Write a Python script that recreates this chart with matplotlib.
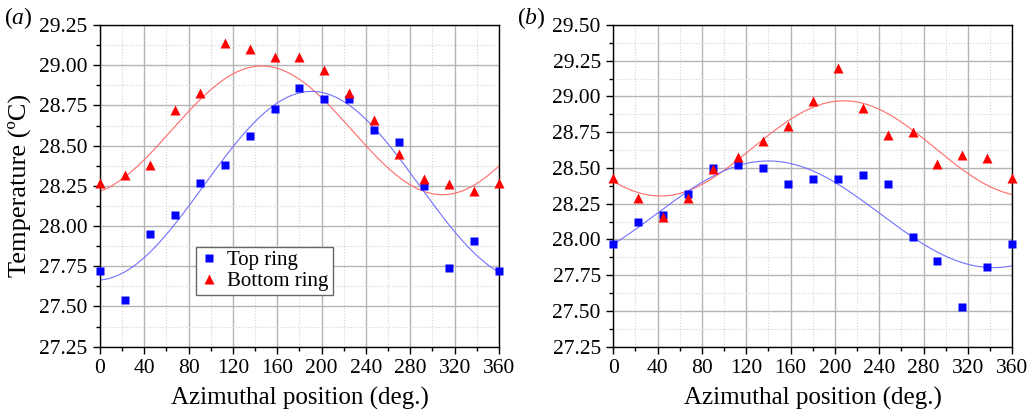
import numpy as np
import matplotlib
matplotlib.use("Agg")
import matplotlib.pyplot as plt
from matplotlib.ticker import MultipleLocator

plt.rcParams["font.family"] = ["Liberation Serif", "DejaVu Serif"]
plt.rcParams["mathtext.fontset"] = "custom"
plt.rcParams["mathtext.rm"] = "Liberation Serif"
plt.rcParams["mathtext.it"] = "Liberation Serif:italic"

# azimuthal positions (deg.)
angle = np.arange(0, 360.1, 22.5)

# (a)
top_a = [27.72, 27.54, 27.95, 28.07, 28.27, 28.38, 28.56, 28.73, 28.86,
         28.79, 28.79, 28.60, 28.52, 28.25, 27.74, 27.91, 27.72]
bottom_a = [28.27, 28.32, 28.38, 28.72, 28.83, 29.14, 29.10, 29.05, 29.05,
            28.97, 28.83, 28.66, 28.45, 28.29, 28.26, 28.22, 28.27]

# (b)
top_b = [27.97, 28.12, 28.17, 28.32, 28.50, 28.52, 28.50, 28.39, 28.42,
         28.42, 28.45, 28.39, 28.02, 27.85, 27.53, 27.81, 27.97]
bottom_b = [28.43, 28.29, 28.16, 28.29, 28.49, 28.58, 28.69, 28.79, 28.97,
            29.20, 28.92, 28.73, 28.75, 28.53, 28.59, 28.57, 28.43]

# sine fits as shown: [offset, amplitude, peak position, period]
fit_top_a = [28.250, 0.587, 191.0, 390.0]
fit_bottom_a = [28.595, 0.400, 146.0, 326.0]
fit_top_b = [28.176, 0.373, 140.0, 406.0]
fit_bottom_b = [28.637, 0.333, 208.0, 331.0]


def sine(t, p):
    y0, amp, xc, period = p
    return y0 + amp * np.cos(2 * np.pi * (t - xc) / period)


fig = plt.figure(figsize=(10.33, 4.15), dpi=100)
ax_a = fig.add_axes([0.0968, 0.1646, 0.3862, 0.7752])
ax_b = fig.add_axes([0.5937, 0.1646, 0.3862, 0.7752])

t = np.linspace(0, 360, 400)
panels = [(ax_a, top_a, bottom_a, fit_top_a, fit_bottom_a, 29.25, "a"),
          (ax_b, top_b, bottom_b, fit_top_b, fit_bottom_b, 29.50, "b")]
for ax, top, bottom, ft, fb, ymax, tag in panels:
    ax.plot(t, sine(t, fb), color="#ff6a6a", lw=0.8, zorder=2)
    ax.plot(t, sine(t, ft), color="#7070ff", lw=0.8, zorder=2)
    ax.plot(angle, top, "s", color="blue", ms=6, mec="none",
            label="Top ring", clip_on=False, zorder=3)
    ax.plot(angle, bottom, "^", color="red", ms=7.5, mec="none",
            label="Bottom ring", clip_on=False, zorder=3)

    ax.set_xlim(0, 360)
    ax.set_ylim(27.25, ymax)
    ax.xaxis.set_major_locator(MultipleLocator(40))
    ax.xaxis.set_minor_locator(MultipleLocator(20))
    ax.yaxis.set_major_locator(MultipleLocator(0.25))
    ax.yaxis.set_minor_locator(MultipleLocator(0.125))
    ax.yaxis.set_major_formatter(lambda v, p: f"{v:.2f}")
    ax.grid(which="major", color="#b4b4b4", lw=1.0, ls="-")
    ax.grid(which="minor", color="#d2d2d2", lw=0.8, ls=":")
    ax.set_axisbelow(True)
    ax.tick_params(which="major", direction="out", length=5, width=1,
                   labelsize=15.5, pad=4, labelfontfamily="Liberation Serif")
    ax.tick_params(which="minor", direction="out", length=3, width=1)
    for s in ax.spines.values():
        s.set_linewidth(1.0)
    ax.set_xlabel("Azimuthal position (deg.)", fontsize=18, labelpad=6)
    fig.text(ax.get_position().x0 - 0.093, 0.925, r"($\mathit{%s}$)" % tag,
             fontsize=17, ha="left", va="bottom")

ax_a.set_ylabel("Temperature (ºC)", fontsize=19, labelpad=6)
leg = ax_a.legend(loc="lower left", bbox_to_anchor=(0.24, 0.16), borderaxespad=0,
                  fontsize=15, frameon=True, fancybox=False, edgecolor="#666666",
                  framealpha=1, handlelength=0.9, handletextpad=0.4,
                  borderpad=0.2, labelspacing=0.05)
leg.get_frame().set_linewidth(1.0)

fig.savefig("out.png", dpi=100)
